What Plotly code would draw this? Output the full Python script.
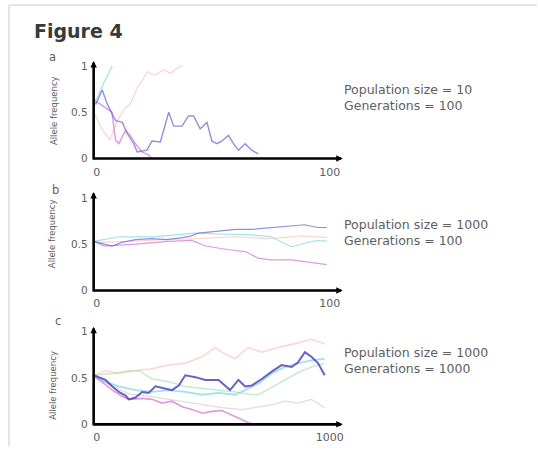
import plotly.graph_objects as go

# ---------------- data ----------------
# Panel a: population size 10, 100 generations
a_purple_x = [0, 1, 3.7, 5.8, 9.4, 12.3, 14.4, 17.2, 18.7, 22.9, 25, 28.6, 32.2, 34.3, 37.9, 40.7, 42.9, 45.7,
              48.6, 50.7, 52.9, 55, 57.8, 60, 62.1, 65, 67.8, 70.6]
a_purple_y = [0.6, 0.59, 0.74, 0.59, 0.41, 0.39, 0.27, 0.16, 0.07, 0.09, 0.19, 0.18, 0.5, 0.35, 0.35, 0.46, 0.46,
              0.32, 0.39, 0.19, 0.16, 0.19, 0.25, 0.16, 0.09, 0.16, 0.09, 0.05]
a_magenta_x = [0, 1, 5, 7.8, 9.4, 10.8, 13.6, 15.7, 17.9, 20.7, 23.6, 25]
a_magenta_y = [0.6, 0.62, 0.55, 0.5, 0.2, 0.16, 0.3, 0.25, 0.16, 0.07, 0.04, 0.0]
a_cyan_x = [0, 2, 4, 6, 8]
a_cyan_y = [0.6, 0.68, 0.8, 0.9, 1.0]
a_peach_x = [0, 2, 4, 7, 10, 13, 16, 19, 21, 23, 26, 30, 33, 36, 38]
a_peach_y = [0.5, 0.4, 0.3, 0.2, 0.4, 0.53, 0.6, 0.78, 0.85, 0.94, 0.9, 0.96, 0.92, 0.98, 1.0]

# Panel b: population size 1000, 100 generations
b_purple_x = [0, 5, 8, 12, 18, 25, 31, 38, 42, 45, 53.5, 61, 68, 76, 85, 90.6, 96, 100]
b_purple_y = [0.53, 0.5, 0.48, 0.52, 0.55, 0.56, 0.55, 0.57, 0.59, 0.62, 0.64, 0.66, 0.66, 0.68, 0.7, 0.71, 0.68, 0.68]
b_cyan_x = [0, 11, 25, 43.6, 53.5, 68, 76, 85, 90.6, 96, 100]
b_cyan_y = [0.53, 0.58, 0.58, 0.62, 0.61, 0.6, 0.58, 0.47, 0.51, 0.54, 0.53]
b_pink_x = [0, 4.7, 18, 32, 42, 48, 58, 65, 70.5, 76, 85, 90.6, 100]
b_pink_y = [0.53, 0.48, 0.5, 0.53, 0.54, 0.48, 0.44, 0.42, 0.35, 0.33, 0.33, 0.31, 0.28]
b_peach_x = [0, 15, 30, 45, 60, 75, 90, 100]
b_peach_y = [0.52, 0.53, 0.55, 0.56, 0.58, 0.56, 0.59, 0.57]

# Panel c: population size 1000, 1000 generations
c_purple_x = [0, 51, 80, 108, 137, 151, 179, 208, 236, 265, 300, 336, 365, 393, 436, 479, 536, 564, 585, 621,
              650, 678, 721, 764, 806, 849, 877, 906, 934, 963, 991]
c_purple_y = [0.53, 0.48, 0.41, 0.35, 0.31, 0.27, 0.29, 0.35, 0.34, 0.41, 0.39, 0.37, 0.42, 0.53, 0.51, 0.48, 0.48,
              0.42, 0.37, 0.48, 0.41, 0.42, 0.49, 0.57, 0.64, 0.62, 0.67, 0.78, 0.73, 0.66, 0.53]
c_magenta_x = [0, 80, 123, 151, 208, 251, 293, 336, 379, 422, 465, 507, 550, 593, 636, 679]
c_magenta_y = [0.53, 0.37, 0.3, 0.27, 0.28, 0.27, 0.23, 0.25, 0.19, 0.16, 0.12, 0.14, 0.15, 0.1, 0.05, 0.0]
c_cyan_x = [0, 51, 108, 179, 251, 322, 393, 465, 536, 607, 650, 707, 764, 821, 877, 934, 991]
c_cyan_y = [0.53, 0.46, 0.41, 0.37, 0.35, 0.37, 0.35, 0.32, 0.34, 0.32, 0.37, 0.44, 0.55, 0.62, 0.66, 0.69, 0.71]
c_peach_x = [0, 51, 108, 179, 251, 322, 393, 465, 522, 564, 607, 664, 721, 764, 821, 877, 934, 991]
c_peach_y = [0.53, 0.58, 0.55, 0.58, 0.6, 0.64, 0.66, 0.73, 0.83, 0.76, 0.71, 0.83, 0.78, 0.81, 0.85, 0.88, 0.92, 0.87]
c_green_x = [0, 80, 151, 194, 251, 322, 393, 465, 536, 607, 679, 707, 764, 821, 877, 934, 991]
c_green_y = [0.53, 0.55, 0.58, 0.58, 0.49, 0.46, 0.41, 0.39, 0.37, 0.35, 0.32, 0.32, 0.4, 0.48, 0.56, 0.62, 0.66]
c_gray_x = [0, 80, 150, 250, 350, 450, 550, 636, 707, 764, 821, 877, 934, 991]
c_gray_y = [0.5, 0.42, 0.33, 0.3, 0.26, 0.22, 0.18, 0.16, 0.19, 0.21, 0.25, 0.23, 0.27, 0.18]

y_tick_vals = [0, 0.5, 1]
y_tick_text = ["0", "0.5", "1"]
xa_ticks = [0, 100]
xc_ticks = [0, 1000]
x_tick_text_a = ["0", "100"]
x_tick_text_c = ["0", "1000"]

panel_letters = ["a", "b", "c"]
pop_text = ["Population size = 10", "Population size = 1000", "Population size = 1000"]
gen_text = ["Generations = 100", "Generations = 100", "Generations = 1000"]
y_title = "Allele frequency"
fig_title = "Figure 4"

# ---------------- layout helpers ----------------
W, H = 538, 452
FONT = "DejaVu Sans"
TXT = "#5e5e5e"


def px(x):
    return x / W


def py(y):
    return 1 - y / H


AX_X0, AX_X1 = 93, 343          # y-axis position, x-axis arrow tip
# per panel: (x-axis pixel row, y-axis arrow tip row, px per unit in x)
panels = [(160, 61, 2.34), (294, 194, 2.34), (430, 331, 0.234)]
PX_PER_Y = 94

fig = go.Figure()

colors = {
    "purple": "rgba(110,105,210,0.75)",
    "dpurple": "rgba(80,70,185,0.85)",
    "magenta": "rgba(210,110,210,0.7)",
    "cyan": "rgba(110,210,228,0.65)",
    "peach": "rgba(245,180,165,0.55)",
    "green": "rgba(160,215,170,0.55)",
    "gray": "rgba(215,200,200,0.65)",
}


def add(x, y, col, w, k):
    xa = "x" if k == 1 else f"x{k}"
    ya = "y" if k == 1 else f"y{k}"
    fig.add_trace(go.Scatter(x=x, y=y, mode="lines", line=dict(color=colors[col], width=w),
                             xaxis=xa, yaxis=ya, hoverinfo="skip", showlegend=False))


# panel a
add(a_peach_x, a_peach_y, "peach", 1.3, 1)
add(a_cyan_x, a_cyan_y, "cyan", 1.3, 1)
add(a_magenta_x, a_magenta_y, "magenta", 1.4, 1)
add(a_purple_x, a_purple_y, "purple", 1.4, 1)
# panel b
add(b_peach_x, b_peach_y, "peach", 1.2, 2)
add(b_pink_x, b_pink_y, "magenta", 1.2, 2)
add(b_cyan_x, b_cyan_y, "cyan", 1.2, 2)
add(b_purple_x, b_purple_y, "purple", 1.2, 2)
# panel c
add(c_gray_x, c_gray_y, "gray", 1.3, 3)
add(c_green_x, c_green_y, "green", 1.5, 3)
add(c_peach_x, c_peach_y, "peach", 1.5, 3)
add(c_magenta_x, c_magenta_y, "magenta", 1.6, 3)
add(c_cyan_x, c_cyan_y, "cyan", 1.8, 3)
add(c_purple_x, c_purple_y, "dpurple", 2.0, 3)

layout = dict(width=W, height=H, margin=dict(l=0, r=0, t=0, b=0),
              paper_bgcolor="white", plot_bgcolor="rgba(0,0,0,0)", showlegend=False)

annotations = []
shapes = []
for i, (row, top, ppx) in enumerate(panels):
    k = i + 1
    xs = "" if k == 1 else str(k)
    xtv = xc_ticks if k == 3 else xa_ticks
    xtt = x_tick_text_c if k == 3 else x_tick_text_a
    layout[f"xaxis{xs}"] = dict(domain=[px(AX_X0), px(AX_X1)], range=[0, (AX_X1 - AX_X0) / ppx],
                                anchor=f"y{xs}", showgrid=False, zeroline=False, showline=False,
                                tickvals=xtv, ticktext=xtt, ticks="", ticklabelstandoff=5, ticklabelshift=3,
                                tickfont=dict(family=FONT, size=11, color=TXT), fixedrange=True)
    layout[f"yaxis{xs}"] = dict(domain=[py(row), py(top)], range=[0, (row - top) / PX_PER_Y],
                                anchor=f"x{xs}", showgrid=False, zeroline=False, showline=False,
                                tickvals=y_tick_vals, ticktext=y_tick_text, ticks="", ticklabelstandoff=5,
                                tickfont=dict(family=FONT, size=10.5, color=TXT), fixedrange=True)
    # axis arrows
    annotations.append(dict(xref="paper", yref="paper", x=px(AX_X0), y=py(top), ax=0, ay=(row - top) + 1,
                            text="", showarrow=True, arrowhead=2, arrowsize=0.5, arrowwidth=2.6,
                            arrowcolor="black"))
    annotations.append(dict(xref="paper", yref="paper", x=px(AX_X1), y=py(row), ax=-(AX_X1 - AX_X0) - 1, ay=0,
                            text="", showarrow=True, arrowhead=2, arrowsize=0.5, arrowwidth=2.6,
                            arrowcolor="black"))

# panel letters
letter_pos = [(52, 57), (55, 192), (57, 325)]
for t, (lx, ly) in zip(panel_letters, letter_pos):
    annotations.append(dict(xref="paper", yref="paper", x=px(lx), y=py(ly), text=t, showarrow=False,
                            font=dict(family=FONT, size=11.5, color=TXT), xanchor="center", yanchor="middle"))

# y titles
ytitle_pos = [(53, 111), (52, 236), (52, 390)]
for (lx, ly) in ytitle_pos:
    annotations.append(dict(xref="paper", yref="paper", x=px(lx), y=py(ly), text=y_title, showarrow=False,
                            textangle=-90, font=dict(family=FONT, size=8.5, color=TXT),
                            xanchor="center", yanchor="middle"))

# side texts (two lines in one block)
side_mid = [98, 235, 365]
for pt, gt, ym in zip(pop_text, gen_text, side_mid):
    annotations.append(dict(xref="paper", yref="paper", x=px(342), y=py(ym), text=pt + "<br>" + gt,
                            showarrow=False, align="left",
                            font=dict(family=FONT, size=12.5, color=TXT), xanchor="left", yanchor="middle"))

# figure title
annotations.append(dict(xref="paper", yref="paper", x=px(31), y=py(30), text="<b>" + fig_title + "</b>",
                        showarrow=False, font=dict(family=FONT, size=19, color="#3a3a3a"),
                        xanchor="left", yanchor="middle"))

# frame lines (top and left)
shapes.append(dict(type="line", xref="paper", yref="paper", x0=px(8), x1=1, y0=py(4), y1=py(4),
                   line=dict(color="#dcdcdc", width=1.5)))
shapes.append(dict(type="line", xref="paper", yref="paper", x0=px(8), x1=px(8), y0=py(4), y1=0,
                   line=dict(color="#dcdcdc", width=1.5)))

layout["annotations"] = annotations
layout["shapes"] = shapes
fig.update_layout(**layout)

fig.write_html("out.html", config={"displayModeBar": False},
               post_script="document.body.style.margin='0';document.body.style.overflow='hidden';")
